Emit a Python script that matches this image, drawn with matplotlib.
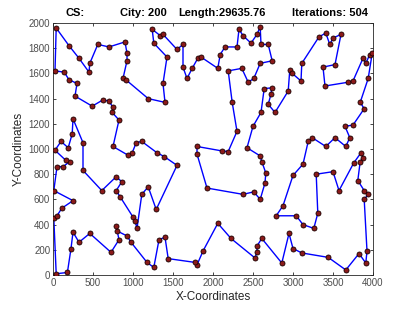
import matplotlib
matplotlib.use("Agg")
import matplotlib.pyplot as plt

# Tour of cities (closed route)
tour_x = [40, 200, 325, 450, 460, 560, 700, 900, 925, 925, 875, 910, 1190, 1400, 1375, 1425,
          1260, 1240, 1340, 1375, 1550, 1625, 1625, 1675, 1740, 1810, 1850, 2060, 2090, 2150,
          2300, 2325, 2375, 2475, 2550, 2590, 2600, 2690, 2740, 2590, 2510, 2440, 2360, 2190,
          2240, 2300, 2190, 2110, 1800, 1800, 1925, 2375, 2510, 2590, 2650, 2660, 2610, 2590,
          2425, 2500, 2600, 2640, 2735, 2725, 2690, 2775, 2940, 2960, 2990, 3100, 3110, 3325,
          3410, 3460, 3500, 3600, 3525, 3375, 3400, 3690, 3750, 3875, 3910, 3960, 3990, 3940,
          3840, 3890, 3750, 3650, 3710, 3660, 3525, 3410, 3240, 3190, 3125, 3000, 2875, 2790,
          3040, 3125, 3260, 3310, 3290, 3500, 3575, 3760, 3850, 3875, 3840, 3810, 3890, 3940,
          3890, 3925, 3910, 3825, 3660, 3440, 3110, 3000, 2950, 2860, 2610, 2550, 2550, 2525,
          2225, 2060, 1875, 1800, 1775, 1440, 1400, 1325, 1260, 1175, 975, 925, 800, 790,
          825, 725, 460, 325, 250, 225, 180, 40, 10, 50, 110, 250, 10, 50, 125, 210, 160, 25,
          100, 190, 240, 250, 375, 375, 610, 790, 860, 790, 840, 1000, 1025, 1050, 1110, 1190,
          1290, 1550, 1390, 1300, 1110, 1040, 990, 940, 750, 825, 740, 750, 700, 625, 490, 275,
          300, 200, 140, 25]
tour_y = [1960, 1820, 1720, 1610, 1680, 1830, 1810, 1850, 1760, 1700, 1560, 1550, 1400, 1370,
          1520, 1730, 1840, 1950, 1900, 1910, 1790, 1830, 1650, 1560, 1640, 1720, 1730, 1640,
          1750, 1810, 1810, 1950, 1900, 1840, 1910, 1970, 1830, 1830, 1700, 1680, 1560, 1530,
          1640, 1620, 1370, 1140, 980, 985, 1020, 960, 690, 640, 660, 600, 730, 810, 900, 945,
          1010, 1180, 1290, 1480, 1485, 1435, 1355, 1290, 1460, 1630, 1600, 1540, 1680, 1890,
          1920, 1830, 1880, 1910, 1670, 1650, 1500, 1530, 1540, 1720, 1680, 1750, 1760, 1560,
          1370, 1320, 1190, 1180, 1090, 1020, 1090, 1020, 1090, 1060, 880, 790, 550, 470,
          470, 400, 370, 490, 800, 820, 670, 890, 970, 930, 900, 750, 670, 640,
          600, 190, 95, 170, 40, 140, 175, 210, 330, 95, 290, 230, 183, 135,
          290, 410, 190, 80, 100, 130, 300, 280, 60, 100, 260, 310, 350, 390,
          280, 180, 330, 260, 340, 210, 20, 10, 450, 470, 530, 590, 670, 860, 860, 900, 910, 990,
          1060, 1010, 1120, 1240, 1050, 830, 670, 780, 740, 670, 620, 460, 430, 370, 640, 700,
          520, 870, 940, 970, 1060, 1050, 970, 950, 1020, 1230, 1290, 1330, 1380, 1390, 1340, 1420,
          1520, 1550, 1610, 1620]

title_parts = ["CS:", "City: 200", "Length:29635.76", "Iterations: 504"]
x_ticks = [0, 500, 1000, 1500, 2000, 2500, 3000, 3500, 4000]
y_ticks = [0, 200, 400, 600, 800, 1000, 1200, 1400, 1600, 1800, 2000]

plt.rcParams['font.family'] = ['Liberation Sans', 'DejaVu Sans']

fig = plt.figure(figsize=(4.13, 3.09), dpi=100)
ax = fig.add_axes([53/413, 1 - 275/309, 320/413, 252/309])

px = tour_x + [tour_x[0]]
py = tour_y + [tour_y[0]]
ax.plot(px, py, color='#0000ff', lw=1.0, zorder=2)
ax.plot(tour_x, tour_y, linestyle='none', marker='o', markersize=3.6,
        markerfacecolor='#8b1a1a', markeredgecolor='#1a0000', markeredgewidth=0.6, zorder=3)

ax.set_xlim(0, 4000)
ax.set_ylim(0, 2000)
ax.set_xticks(x_ticks)
ax.set_yticks(y_ticks)
ax.tick_params(direction='in', length=2.5, width=0.6, colors='#262626', labelsize=7,
               top=True, right=True, pad=2)
for lab in ax.get_xticklabels() + ax.get_yticklabels():
    lab.set_color('#4d4d4d')
for s in ax.spines.values():
    s.set_color('#262626')
    s.set_linewidth(0.6)

ax.set_xlabel('X-Coordinates', fontsize=8.5, color='#262626', labelpad=2)
ax.set_ylabel('Y-Coordinates', fontsize=8.5, color='#262626', labelpad=3)

xpos = [75, 143, 222, 330]
for t, xp in zip(title_parts, xpos):
    fig.text(xp/413, 1 - 13/309, t, fontsize=8, fontweight='bold', ha='center', va='center',
             color='#000000')

fig.savefig('out.png', dpi=100)
